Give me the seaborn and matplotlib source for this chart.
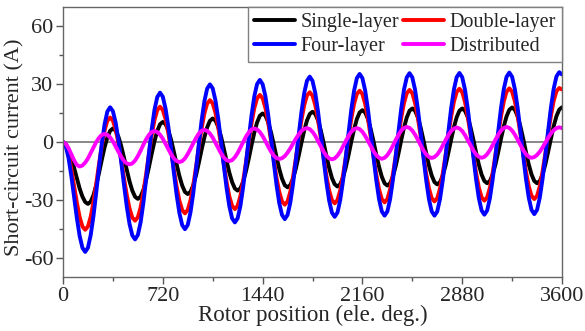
import matplotlib
matplotlib.use("Agg")
import matplotlib.pyplot as plt
import pandas as pd
import seaborn as sns
from matplotlib.ticker import MultipleLocator

# Rotor position (ele. deg.), sampled every 20 degrees
rotor_position = list(range(0, 3601, 20))

single_layer = [
    0.0, -1.0, -3.8, -8.0, -13.3, -18.8, -24.1, -28.3, -31.1, -32.1,
    -30.9, -27.5, -22.3, -16.0, -9.2, -2.8, 2.4, 5.8, 7.0,
    5.9, 2.7, -2.1, -8.1, -14.4, -20.4, -25.2, -28.4, -29.5,
    -28.3, -24.8, -19.5, -13.0, -6.1, 0.4, 5.7, 9.2, 10.4,
    9.3, 6.0, 1.1, -5.1, -11.6, -17.7, -22.6, -25.9, -27.0,
    -25.8, -22.4, -17.2, -10.8, -4.0, 2.4, 7.6, 11.0, 12.2,
    11.1, 7.8, 2.9, -3.3, -9.8, -15.9, -20.8, -24.1, -25.2,
    -24.0, -20.5, -15.2, -8.7, -1.7, 4.8, 10.1, 13.6, 14.8,
    13.7, 10.3, 5.2, -1.0, -7.7, -13.9, -19.0, -22.4, -23.5,
    -22.3, -18.9, -13.7, -7.3, -0.5, 5.9, 11.1, 14.5, 15.7,
    14.5, 11.2, 6.0, -0.3, -7.1, -13.4, -18.6, -21.9, -23.1,
    -21.9, -18.5, -13.2, -6.8, 0.2, 6.6, 11.9, 15.3, 16.5,
    15.3, 11.9, 6.7, 0.4, -6.5, -12.8, -18.0, -21.4, -22.6,
    -21.4, -17.9, -12.6, -6.1, 0.9, 7.4, 12.7, 16.2, 17.4,
    16.2, 12.8, 7.6, 1.1, -5.7, -12.2, -17.4, -20.8, -22.0,
    -20.8, -17.4, -12.2, -5.7, 1.1, 7.6, 12.8, 16.2, 17.4,
    16.2, 12.9, 7.7, 1.4, -5.4, -11.7, -16.9, -20.2, -21.4,
    -20.2, -16.8, -11.6, -5.2, 1.7, 8.1, 13.3, 16.7, 17.9,
    16.7, 13.3, 8.1, 1.7, -5.2, -11.6, -16.8, -20.2, -21.4,
    -20.2, -16.8, -11.6, -5.1, 1.7, 8.2, 13.4, 16.8, 18.0,
]

double_layer = [
    0.0, -1.7, -6.6, -14.1, -22.8, -31.4, -38.9, -43.8, -45.5,
    -43.8, -38.7, -31.0, -21.5, -11.3, -1.9, 5.9, 11.0, 12.7,
    11.1, 6.4, -0.7, -9.4, -18.7, -27.4, -34.5, -39.2, -40.8,
    -39.0, -33.9, -26.0, -16.4, -6.1, 3.5, 11.4, 16.5, 18.3,
    16.6, 11.8, 4.5, -4.5, -14.2, -23.2, -30.5, -35.3, -37.0,
    -35.2, -30.1, -22.3, -12.8, -2.5, 7.0, 14.8, 19.9, 21.7,
    20.0, 15.1, 7.6, -1.6, -11.5, -20.7, -28.2, -33.1, -34.8,
    -33.0, -27.9, -20.0, -10.4, -0.1, 9.6, 17.5, 22.6, 24.4,
    22.7, 17.7, 10.2, 0.9, -9.0, -18.3, -25.8, -30.8, -32.5,
    -30.8, -25.7, -17.9, -8.4, 1.7, 11.2, 19.0, 24.1, 25.8,
    24.1, 19.1, 11.4, 2.0, -8.0, -17.4, -25.1, -30.1, -31.8,
    -30.1, -25.0, -17.2, -7.7, 2.5, 12.0, 19.8, 24.9, 26.6,
    24.9, 19.8, 12.1, 2.7, -7.4, -16.8, -24.5, -29.6, -31.3,
    -29.6, -24.5, -16.7, -7.2, 2.9, 12.4, 20.2, 25.3, 27.0,
    25.3, 20.2, 12.6, 3.1, -6.9, -16.4, -24.0, -29.1, -30.8,
    -29.1, -24.0, -16.2, -6.7, 3.5, 13.0, 20.8, 25.9, 27.6,
    25.9, 20.8, 13.1, 3.7, -6.5, -15.9, -23.6, -28.7, -30.4,
    -28.7, -23.6, -15.9, -6.4, 3.8, 13.3, 21.0, 26.1, 27.8,
    26.1, 21.1, 13.5, 4.1, -5.9, -15.3, -22.9, -27.9, -29.6,
    -27.9, -22.9, -15.2, -5.8, 4.2, 13.6, 21.3, 26.3, 28.0,
    27.2,
]

four_layer = [
    0.0, -2.2, -8.3, -17.6, -28.5, -39.4, -48.7, -54.8, -57.0,
    -54.8, -48.2, -38.3, -26.0, -13.0, -0.8, 9.2, 15.8, 18.0,
    16.0, 10.0, 0.9, -10.3, -22.2, -33.4, -42.5, -48.4, -50.5,
    -48.2, -41.6, -31.5, -19.1, -5.8, 6.6, 16.7, 23.3, 25.6,
    23.5, 17.3, 7.9, -3.6, -16.0, -27.5, -36.9, -43.1, -45.2,
    -43.0, -36.4, -26.4, -14.2, -1.1, 11.1, 21.1, 27.7, 29.9,
    27.8, 21.5, 12.0, 0.3, -12.1, -23.8, -33.3, -39.6, -41.7,
    -39.5, -33.1, -23.2, -11.2, 1.7, 13.7, 23.6, 30.0, 32.2,
    30.0, 23.8, 14.2, 2.4, -10.2, -22.0, -31.6, -37.8, -40.0,
    -37.8, -31.4, -21.5, -9.5, 3.4, 15.4, 25.3, 31.7, 33.9,
    31.7, 25.4, 15.7, 3.9, -8.8, -20.6, -30.3, -36.6, -38.8,
    -36.6, -30.1, -20.3, -8.2, 4.7, 16.8, 26.6, 33.1, 35.3,
    33.1, 26.7, 16.9, 4.9, -7.8, -19.8, -29.6, -36.0, -38.2,
    -36.0, -29.6, -19.7, -7.7, 5.2, 17.2, 27.1, 33.5, 35.7,
    33.5, 27.1, 17.2, 5.2, -7.7, -19.7, -29.6, -36.0, -38.2,
    -36.0, -29.5, -19.7, -7.6, 5.2, 17.3, 27.1, 33.6, 35.8,
    33.6, 27.2, 17.4, 5.4, -7.3, -19.3, -29.1, -35.5, -37.7,
    -35.5, -29.1, -19.3, -7.3, 5.6, 17.6, 27.4, 33.8, 36.0,
    33.8, 27.4, 17.7, 5.7, -7.1, -19.1, -28.8, -35.2, -37.4,
    -35.2, -28.8, -19.0, -7.0, 5.8, 17.8, 27.6, 34.0, 36.2,
    35.0,
]

distributed = [
    0.0, -0.9, -3.2, -6.4, -9.5, -11.9, -12.7,
    -12.2, -10.7, -8.5, -5.7, -2.8, 0.0, 2.2, 3.7, 4.2,
    3.7, 2.4, 0.3, -2.3, -5.1, -7.7, -9.8, -11.1, -11.6,
    -11.1, -9.6, -7.3, -4.5, -1.4, 1.4, 3.7, 5.2, 5.7,
    5.2, 3.8, 1.7, -1.0, -3.8, -6.4, -8.5, -9.9, -10.4,
    -9.9, -8.5, -6.2, -3.5, -0.6, 2.1, 4.4, 5.8, 6.3,
    5.8, 4.4, 2.3, -0.4, -3.2, -5.9, -8.0, -9.4, -9.9,
    -9.4, -7.9, -5.7, -2.9, 0.0, 2.8, 5.0, 6.5, 7.0,
    6.5, 5.2, 3.1, 0.5, -2.3, -4.9, -7.0, -8.3, -8.8,
    -8.4, -7.3, -5.5, -3.3, -0.8, 1.7, 3.9, 5.7, 6.8, 7.2,
    6.7, 5.3, 3.2, 0.5, -2.3, -5.0, -7.1, -8.5, -9.0,
    -8.5, -7.1, -5.0, -2.3, 0.5, 3.2, 5.3, 6.7, 7.2,
    6.7, 5.3, 3.2, 0.6, -2.1, -4.7, -6.8, -8.2, -8.7,
    -8.2, -6.8, -4.6, -1.9, 1.0, 3.7, 5.9, 7.3, 7.8,
    7.3, 5.9, 3.8, 1.2, -1.7, -4.3, -6.4, -7.8, -8.3,
    -7.8, -6.5, -4.4, -1.8, 1.0, 3.6, 5.7, 7.0, 7.5,
    7.0, 5.7, 3.6, 1.0, -1.7, -4.3, -6.4, -7.7, -8.2,
    -7.7, -6.3, -4.2, -1.6, 1.2, 3.8, 5.9, 7.3, 7.8,
    7.3, 5.9, 3.8, 1.2, -1.6, -4.2, -6.3, -7.7, -8.2,
    -7.8, -6.7, -5.0, -2.8, -0.3, 2.2, 4.4, 6.1, 7.2, 7.6,
    7.2,
]

series_names = ["Single-layer", "Double-layer", "Four-layer", "Distributed"]
series_colors = ["#000000", "#ff0000", "#0000ff", "#ff00ff"]
x_ticks = [0, 720, 1440, 2160, 2880, 3600]
y_ticks = [-60, -30, 0, 30, 60]

sns.set_style("white")
plt.rcParams["font.family"] = ["Liberation Serif", "DejaVu Serif"]

fig = plt.figure(figsize=(5.85, 3.31), dpi=100)
ax = fig.add_axes([63 / 585, 1 - 277 / 331, (562 - 63) / 585, (277 - 7) / 331])

ax.axhline(0, color="#7f7f7f", lw=1.3, zorder=1)

handles = {}
for name, vals, col in zip(series_names,
                           [single_layer, double_layer, four_layer, distributed],
                           series_colors):
    df = pd.DataFrame({"pos": rotor_position, "cur": vals})
    sns.lineplot(data=df, x="pos", y="cur", color=col, linewidth=2.8,
                 ax=ax, label=name, sort=False)
    handles[name] = ax.get_lines()[-1]

ax.set_xlim(0, 3600)
ax.set_ylim(-70, 70)
ax.set_xticks(x_ticks)
ax.set_yticks(y_ticks)
ax.set_xticklabels([str(t) for t in x_ticks])
ax.set_yticklabels([str(t) for t in y_ticks])
ax.xaxis.set_minor_locator(MultipleLocator(360))
ax.yaxis.set_minor_locator(MultipleLocator(15))
ax.tick_params(axis="both", which="major", direction="out", length=5, width=1,
               color="#555555", labelsize=16, pad=2, bottom=True, left=True)
ax.tick_params(axis="both", which="minor", direction="out", length=3, width=1,
               color="#555555", bottom=True, left=True)
for s in ax.spines.values():
    s.set_color("#666666")
    s.set_linewidth(1.0)

ax.set_xlabel("Rotor position (ele. deg.)", fontsize=16.5, labelpad=-1)
ax.set_ylabel("Short-circuit current (A)", fontsize=16)
ax.yaxis.set_label_coords(-0.078, 0.48)

order = ["Single-layer", "Four-layer", "Double-layer", "Distributed"]
leg = ax.legend([handles[n] for n in order], order, ncol=2, loc="upper right",
                borderaxespad=0, frameon=True, fancybox=False, edgecolor="#808080",
                framealpha=1, fontsize=14.5, handlelength=2.0, handletextpad=0.3,
                columnspacing=0.2, labelspacing=0.25, borderpad=0.3)
leg.get_frame().set_linewidth(1.0)

fig.savefig("out.png", dpi=100)
